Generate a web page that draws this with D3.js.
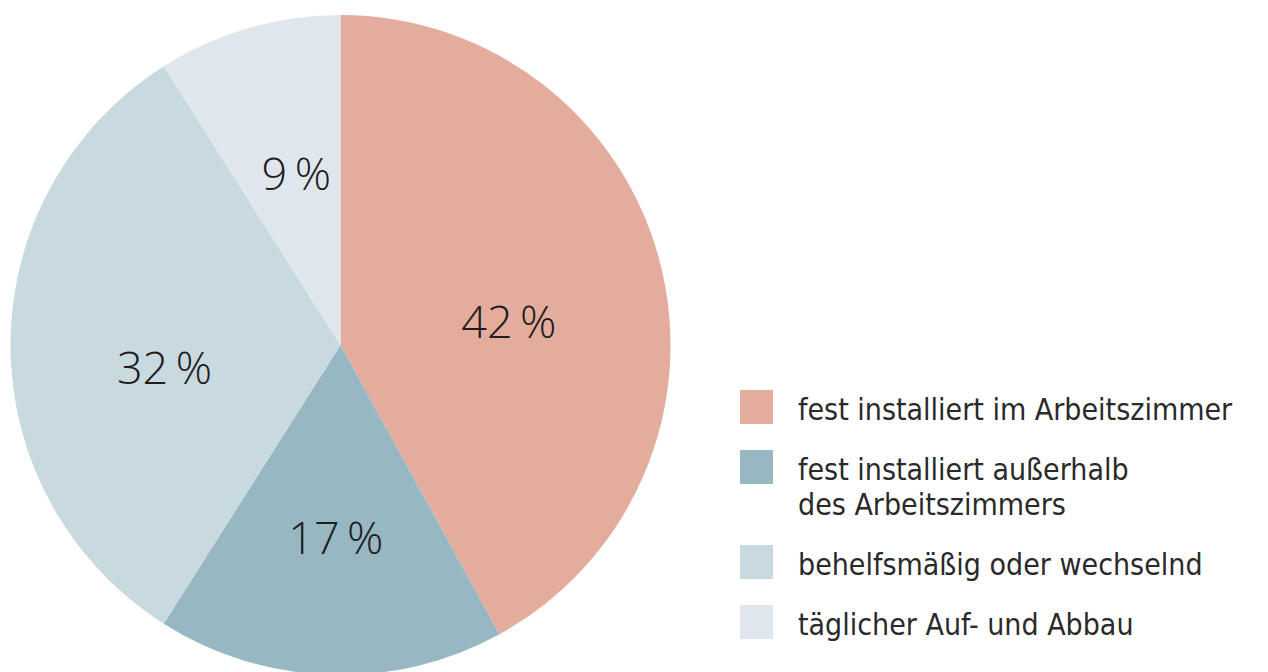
<!DOCTYPE html>
<html><head><meta charset="utf-8">
<script src="https://cdn.jsdelivr.net/npm/d3@7"></script>
<style>body{margin:0;background:#fff}svg{display:block}</style>
</head><body>
<svg id="c" width="1268" height="672"></svg>
<script>
const categories = ["fest installiert im Arbeitszimmer","fest installiert außerhalb\ndes Arbeitszimmers","behelfsmäßig oder wechselnd","täglicher Auf- und Abbau"];
const values = [42, 17, 32, 9];
const labels = ["42\u2009%","17\u2009%","32\u2009%","9\u2009%"];
const colors = ["#e3ac9d","#97b8c3","#c9d9e0","#dfe7ec"];
// layout nudges for labels (px)
const labelDx = [-6, 1, 4, 6];
const labelDy = [20, 12, 21, 0];

const svg = d3.select("#c");
const cx = 340.5, cy = 345, R = 330;
const g = svg.append("g").attr("transform", `translate(${cx},${cy})`);
const pie = d3.pie().sort(null).value(d => d);
const arcs = pie(values);
const arc = d3.arc().innerRadius(0).outerRadius(R);
const labelArc = d3.arc().innerRadius(180).outerRadius(180);
g.selectAll("path").data(arcs).join("path").attr("d", arc).attr("fill", (d,i)=>colors[i]);
g.selectAll("text").data(arcs).join("text")
  .attr("x", (d,i)=>labelArc.centroid(d)[0]+labelDx[i])
  .attr("y", (d,i)=>labelArc.centroid(d)[1]+labelDy[i])
  .attr("text-anchor","middle").attr("dominant-baseline","central")
  .attr("font-family","'Open Sans', sans-serif").attr("font-weight",300)
  .attr("font-size",45).attr("fill","#1e1e1e")
  .text((d,i)=>labels[i]);

const legY = d3.scaleOrdinal().domain(d3.range(4)).range([390, 450, 545, 605]);
const leg = svg.append("g");
categories.forEach((c,i)=>{
  leg.append("rect").attr("x",740).attr("y",legY(i)).attr("width",33).attr("height",34).attr("fill",colors[i]);
  const t = leg.append("text").attr("x",798).attr("y",legY(i)+30)
    .attr("font-family","'Liberation Sans Narrow','DejaVu Sans Condensed',sans-serif")
    .attr("font-size",30).attr("fill","#2a2a2a");
  c.split("\n").forEach((line,j)=>{
    t.append("tspan").attr("x",798).attr("dy", j===0?0:35).text(line);
  });
});
</script>
</body></html>
